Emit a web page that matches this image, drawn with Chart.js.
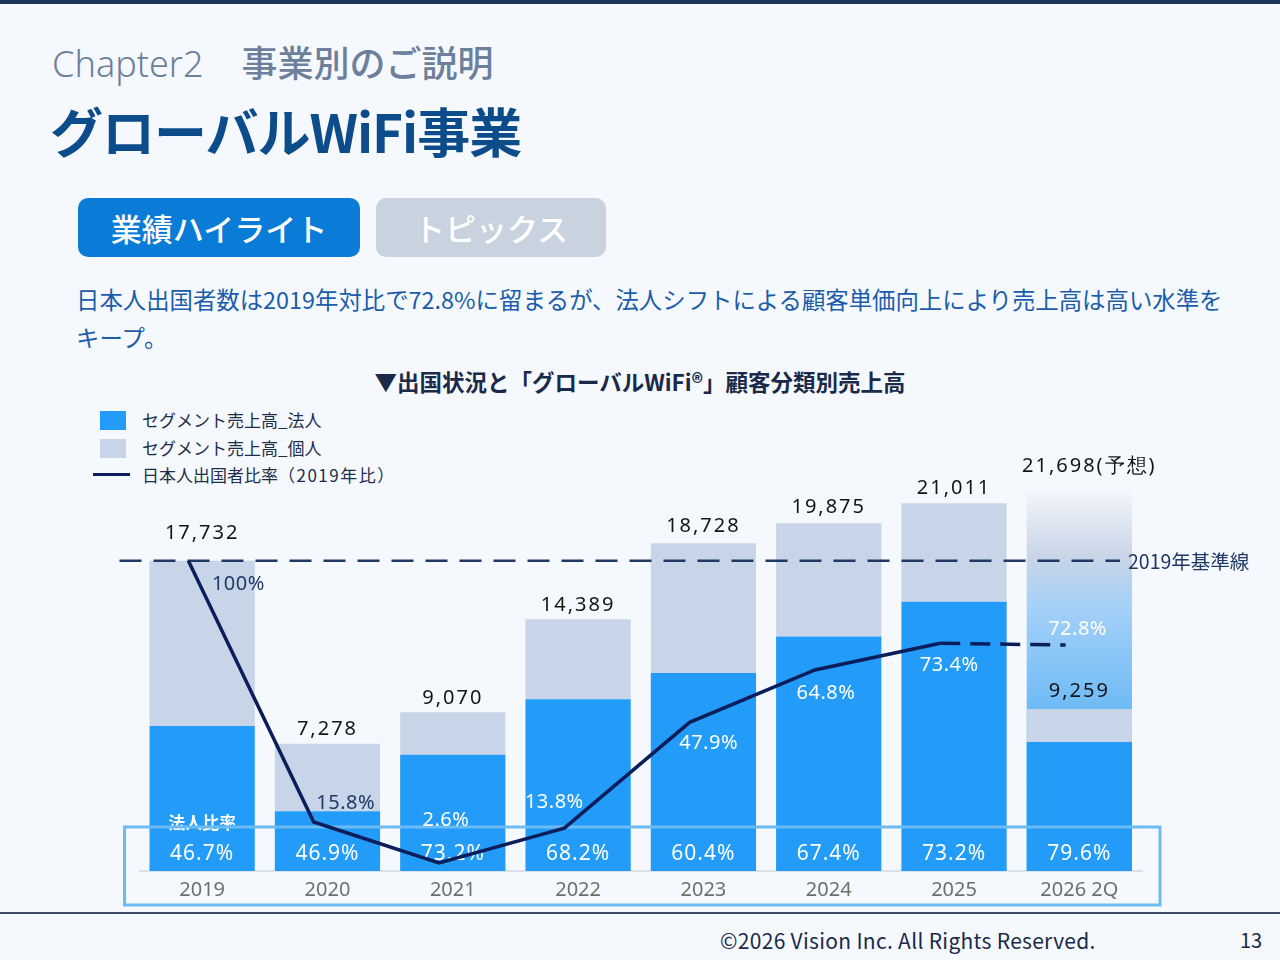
<!DOCTYPE html>
<html lang="ja">
<head>
<meta charset="utf-8">
<title>グローバルWiFi事業</title>
<script src="https://cdn.jsdelivr.net/npm/chart.js@4.4.1/dist/chart.umd.min.js"></script>
<style>
  html, body { margin: 0; padding: 0; }
  body {
    width: 1280px; height: 960px; position: relative; overflow: hidden;
    background: #F5F9FE;
    font-family: "Noto Sans CJK JP", "Noto Sans", sans-serif;
  }
  .topbar { position: absolute; left: 0; top: 0; width: 1280px; height: 4px; background: #1E3560; }
  .chapter { position: absolute; left: 52px; top: 35px; font-size: 36px; color: #6D809B; white-space: nowrap; }
  .chapter .en { font-family: "Noto Sans", sans-serif; font-weight: 300; margin-right: 38px; }
  .chapter .jp { font-weight: 500; }
  .title { position: absolute; left: 50px; top: 92px; font-size: 53px; font-weight: 700; color: #0D4C8B; white-space: nowrap; letter-spacing: -1px; }
  .tab { position: absolute; top: 198px; height: 59px; border-radius: 10px; color: #fff;
         font-size: 31px; font-weight: 500; line-height: 59px; text-align: center; }
  .tab.on { left: 78px; width: 282px; background: #0A7BD6; }
  .tab.off { left: 376px; width: 230px; background: #C9D3DF; }
  .lead { position: absolute; left: 76px; top: 280px; font-size: 23.4px; line-height: 38px; color: #1B5DAA; white-space: nowrap; }
  .ctitle { position: absolute; left: 0; width: 1280px; top: 365px; text-align: center; font-size: 22.5px; font-weight: 700; color: #1B2A48; }
  .legend { position: absolute; left: 93px; top: 406px; font-size: 17px; color: #1E2D4A; }
  .legend div { height: 27.5px; line-height: 27.5px; position: relative; padding-left: 49px; white-space: nowrap; }
  .legend .sw { position: absolute; left: 7px; top: 5px; width: 26px; height: 19px; }
  .legend .ln { position: absolute; left: 0; top: 12px; width: 37px; height: 3px; background: #0B1E5B; }
  .legend .yr { letter-spacing: 1.5px; }
  .footline { position: absolute; left: 0; top: 912px; width: 1280px; height: 2px; background: #3A4A66; }
  .copy { position: absolute; left: 720px; top: 925px; font-size: 21px; letter-spacing: 0.3px; color: #1B2A48; white-space: nowrap; }
  .page { position: absolute; left: 1240px; top: 925px; font-size: 20px; color: #1B2A48; }
  #chart { position: absolute; left: 0; top: 0; }
</style>
</head>
<body>
<div class="topbar"></div>
<div class="chapter"><span class="en">Chapter2</span><span class="jp">事業別のご説明</span></div>
<div class="title">グローバルWiFi事業</div>
<div class="tab on">業績ハイライト</div>
<div class="tab off">トピックス</div>
<div class="lead">日本人出国者数は2019年対比で72.8%に留まるが、法人シフトによる顧客単価向上により売上高は高い水準を<br>キープ。</div>
<div class="ctitle">▼出国状況と「グローバルWiFi®」顧客分類別売上高</div>
<div class="legend">
  <div><span class="sw" style="background:#229CF8"></span>セグメント売上高_法人</div>
  <div><span class="sw" style="background:#C8D5E8"></span>セグメント売上高_個人</div>
  <div><span class="ln"></span>日本人出国者比率<span class="yr">（2019年比）</span></div>
</div>
<div class="footline"></div>
<div class="copy">©2026 Vision Inc. All Rights Reserved.</div>
<div class="page">13</div>
<canvas id="chart" width="1280" height="960"></canvas>
<script>
// 売上高(百万円)と比率
const years = ['2019', '2020', '2021', '2022', '2023', '2024', '2025', '2026 2Q'];
const salesCorporate = [8281, 3413, 6639, 9813, 11312, 13396, 15380, 7370];
const salesIndividual = [9451, 3865, 2431, 4576, 7416, 6479, 5631, 1889];
const salesTotal = [17732, 7278, 9070, 14389, 18728, 19875, 21011, 9259];
const corporateRatio = [46.7, 46.9, 73.2, 68.2, 60.4, 67.4, 73.2, 79.6];
const departureRatio = [100, 15.8, 2.6, 13.8, 47.9, 64.8, 73.4, 72.8];
const forecastTotal = [null, null, null, null, null, null, null, 21698];

const BLUE = '#229CF8';
const GREY = '#C8D5E8';
const NAVY = '#0B1E5B';
const BASE_NAVY = '#1F3864';
const Y_MAX = 22000;
const LINE_SHIFT = 0.11; // 折れ線は少し左寄せ

// 折れ線ラベルの位置(点からのずれ)と色
const lineLabelOffset = [[50, 24], [32, -19], [7, -43], [-10, -26], [19, 21], [11, 23], [9, 22], [12, -16]];
const lineLabelColor = ['#1F3A68', '#1F3A68', '#fff', '#fff', '#fff', '#fff', '#fff', '#fff'];
const totalLabelGap = [27, 14, 14, 14, 17, 16, 15, 18];

const fmt = v => v.toLocaleString('en-US');

const slideMarks = {
  id: 'slideMarks',
  beforeDatasetDraw(chart, args) {
    if (args.meta.type !== 'line') return;
    const ctx = chart.ctx;
    const area = chart.chartArea;
    const y = chart.scales.y;
    const base = y.getPixelForValue(0);
    const corpMeta = chart.getDatasetMeta(0);
    const indMeta = chart.getDatasetMeta(1);
    const fcMeta = chart.getDatasetMeta(2);
    ctx.save();

    // 2019年基準線
    const by = y.getPixelForValue(salesTotal[0]);
    ctx.strokeStyle = BASE_NAVY;
    ctx.lineWidth = 2.5;
    ctx.setLineDash([22, 12]);
    ctx.beginPath();
    ctx.moveTo(area.left - 20, by);
    ctx.lineTo(area.right - 22, by);
    ctx.stroke();
    ctx.setLineDash([]);
    ctx.fillStyle = BASE_NAVY;
    ctx.font = '19.5px "Noto Sans CJK JP"';
    ctx.textAlign = 'left';
    ctx.textBaseline = 'middle';
    ctx.fillText('2019年基準線', area.right - 14, by + 1);

    // 売上高合計
    ctx.fillStyle = '#141414';
    ctx.font = '20px "Noto Sans"';
    ctx.letterSpacing = '2px';
    ctx.textAlign = 'center';
    indMeta.data.forEach((el, i) => {
      ctx.fillText(fmt(salesTotal[i]), el.x, el.y - totalLabelGap[i]);
    });
    fcMeta.data.forEach((el, i) => {
      if (forecastTotal[i] == null) return;
      ctx.fillText(fmt(forecastTotal[i]) + '(予想)', el.x + 10, el.y - 25);
    });

    // 法人比率
    ctx.fillStyle = '#fff';
    ctx.font = '21px "Noto Sans"';
    ctx.letterSpacing = '1px';
    corpMeta.data.forEach((el, i) => {
      ctx.fillText(corporateRatio[i].toFixed(1) + '%', el.x, base - 17);
    });
    ctx.letterSpacing = '0px';
    ctx.font = 'bold 17px "Noto Sans CJK JP"';
    ctx.fillText('法人比率', corpMeta.data[0].x, base - 48);

    // 強調枠
    ctx.strokeStyle = '#6CBBF2';
    ctx.lineWidth = 3;
    ctx.strokeRect(area.left - 15, base - 44, area.right - area.left + 33, 78);
    ctx.restore();
  },
  afterDatasetsDraw(chart) {
    const ctx = chart.ctx;
    const meta = chart.getDatasetMeta(3);
    ctx.save();
    ctx.font = '20px "Noto Sans"';
    ctx.letterSpacing = '0.5px';
    ctx.textAlign = 'center';
    ctx.textBaseline = 'middle';
    meta.data.forEach((pt, i) => {
      ctx.fillStyle = lineLabelColor[i];
      ctx.fillText(departureRatio[i] + '%', pt.x + lineLabelOffset[i][0], pt.y + lineLabelOffset[i][1]);
    });
    ctx.restore();
  }
};

const forecastFill = (c) => {
  const chart = c.chart;
  const area = chart.chartArea;
  if (!area) return '#9fcff8';
  const top = chart.scales.y.getPixelForValue(forecastTotal[forecastTotal.length - 1]);
  const g = chart.ctx.createLinearGradient(0, top, 0, area.bottom);
  g.addColorStop(0, '#F3F6FB');
  g.addColorStop(0.17, '#C9D5E7');
  g.addColorStop(0.3, '#A6D1F8');
  g.addColorStop(0.65, '#5EB4F5');
  g.addColorStop(1, '#35A0F2');
  return g;
};

const lastIdx = departureRatio.length - 1;
const barStyle = { grouped: false, barPercentage: 0.84, categoryPercentage: 1 };

new Chart(document.getElementById('chart'), {
  data: {
    labels: years,
    datasets: [
      Object.assign({
        type: 'bar', label: 'セグメント売上高_法人', data: salesCorporate,
        backgroundColor: BLUE, stack: 'sales', order: 1
      }, barStyle),
      Object.assign({
        type: 'bar', label: 'セグメント売上高_個人', data: salesIndividual,
        backgroundColor: GREY, stack: 'sales', order: 2
      }, barStyle),
      Object.assign({
        type: 'bar', label: '予想', data: forecastTotal,
        backgroundColor: forecastFill, stack: 'forecast', order: 3
      }, barStyle),
      {
        type: 'line', label: '日本人出国者比率（2019年比）',
        data: departureRatio.map((v, i) => ({ x: i, y: v })),
        borderColor: NAVY, borderWidth: 3.5, pointRadius: 0, tension: 0,
        xAxisID: 'xl', yAxisID: 'yp', order: 0, clip: false,
        segment: { borderDash: s => s.p1DataIndex === lastIdx ? [20, 10] : undefined }
      }
    ]
  },
  options: {
    responsive: false,
    animation: false,
    layout: { padding: { left: 139.5, right: 138, top: 486, bottom: 51 } },
    plugins: { legend: { display: false }, tooltip: { enabled: false } },
    scales: {
      x: {
        type: 'category', stacked: true, offset: true,
        grid: { display: false, drawTicks: false },
        border: { display: true, color: '#DCE1E8', width: 2 },
        ticks: { color: '#6E6E6E', padding: 7, font: { family: 'Noto Sans', size: 20 } }
      },
      xl: { type: 'linear', display: false, min: -0.5 + LINE_SHIFT, max: lastIdx + 0.5 + LINE_SHIFT },
      y: { stacked: true, min: 0, max: Y_MAX, display: false },
      yp: { min: 0, max: Y_MAX * 100 / salesTotal[0], display: false }
    }
  },
  plugins: [slideMarks]
});
</script>
</body>
</html>
